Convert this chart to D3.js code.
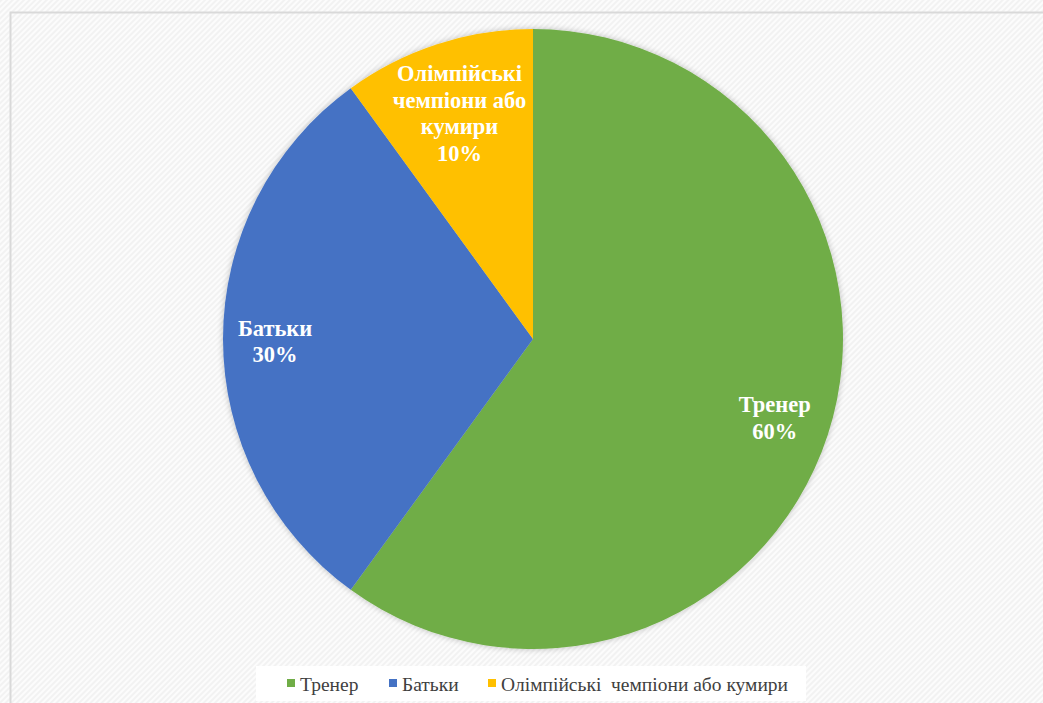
<!DOCTYPE html>
<html>
<head>
<meta charset="utf-8">
<script src="https://cdn.jsdelivr.net/npm/d3@7"></script>
<style>
  html, body { margin: 0; padding: 0; background: #fff; }
  svg { display: block; }
  text { font-family: "Liberation Serif", "Times New Roman", serif; }
</style>
</head>
<body>
<svg id="chart" width="1043" height="703"></svg>
<script>
// Chart data
const categories = ["Тренер", "Батьки", "Олімпійські  чемпіони або кумири"];
const values = [60, 30, 10];
const colors = ["#70ad47", "#4472c4", "#ffc000"];
// Label lines shown inside each slice (the last line is the percentage)
const sliceLabelLines = [["Тренер"], ["Батьки"], ["Олімпійські", "чемпіони або", "кумири"]];

const W = 1043, H = 703;
const cx = 533, cy = 339, R = 310;

const svg = d3.select("#chart");
const defs = svg.append("defs");

// Faint diagonal texture for the chart background
const pat = defs.append("pattern")
  .attr("id", "bgTexture")
  .attr("patternUnits", "userSpaceOnUse")
  .attr("width", 4).attr("height", 4)
  .attr("patternTransform", "rotate(45)");
pat.append("rect").attr("width", 4).attr("height", 4).attr("fill", "#fcfcfc");
pat.append("rect").attr("width", 2).attr("height", 4).attr("fill", "#f2f2f2");

const shadow = defs.append("filter").attr("id", "pieShadow")
  .attr("x", "-10%").attr("y", "-10%").attr("width", "120%").attr("height", "120%");
shadow.append("feGaussianBlur").attr("in", "SourceAlpha").attr("stdDeviation", 3).attr("result", "b");
shadow.append("feComponentTransfer").attr("in", "b").attr("result", "s")
  .append("feFuncA").attr("type", "linear").attr("slope", 0.25);
const merge = shadow.append("feMerge");
merge.append("feMergeNode").attr("in", "s");
merge.append("feMergeNode").attr("in", "SourceGraphic");

svg.append("rect").attr("width", W).attr("height", H).attr("fill", "url(#bgTexture)");

// Chart area frame
svg.append("rect")
  .attr("x", 10.5).attr("y", 12.5)
  .attr("width", W + 10).attr("height", H + 10)
  .attr("fill", "none")
  .attr("stroke", "#d9d9d9")
  .attr("stroke-width", 2);

const data = categories.map((c, i) => ({ name: c, value: values[i], color: colors[i], lines: sliceLabelLines[i] }));

const pie = d3.pie().value(d => d.value).sort(null);
const arcs = pie(data);
const arc = d3.arc().innerRadius(0).outerRadius(R);

const g = svg.append("g").attr("transform", `translate(${cx},${cy})`);
g.append("g").attr("filter", "url(#pieShadow)")
  .selectAll("path")
  .data(arcs)
  .join("path")
  .attr("d", arc)
  .attr("fill", d => d.data.color);

// Slice labels: position along the bisector of each slice
const labelRadius = [0.82, 0.832, 0.767];
const lineH = 26.5;
arcs.forEach((a, i) => {
  const mid = (a.startAngle + a.endAngle) / 2;
  const r = R * labelRadius[i];
  const x = Math.sin(mid) * r;
  const y = -Math.cos(mid) * r + (i === 1 ? 2 : 0);
  const lines = a.data.lines.concat([a.data.value + "%"]);
  const t = g.append("text")
    .attr("x", x)
    .attr("text-anchor", "middle")
    .style("font-weight", "bold")
    .style("font-size", "22.5px")
    .attr("fill", "#ffffff");
  const y0 = y - (lines.length - 1) * lineH / 2;
  lines.forEach((ln, k) => {
    t.append("tspan").attr("x", x).attr("y", y0 + k * lineH).attr("dy", "0.35em").text(ln);
  });
});

// Legend
const legend = svg.append("g");
legend.append("rect")
  .attr("x", 256).attr("y", 666).attr("width", 550).attr("height", 35)
  .attr("fill", "#ffffff");

const legendItems = legend.selectAll("g.item").data(data).join("g").attr("class", "item");
const legendX = [287, 389, 488];
legendItems.append("rect")
  .attr("x", (d, i) => legendX[i]).attr("y", 679)
  .attr("width", 8).attr("height", 8)
  .attr("fill", d => d.color);
legendItems.append("text")
  .attr("x", (d, i) => legendX[i] + 13).attr("y", 684)
  .attr("dy", "0.35em")
  .style("font-size", "19.5px")
  .attr("fill", "#404040")
  .style("white-space", "pre")
  .text(d => d.name);
</script>
</body>
</html>
